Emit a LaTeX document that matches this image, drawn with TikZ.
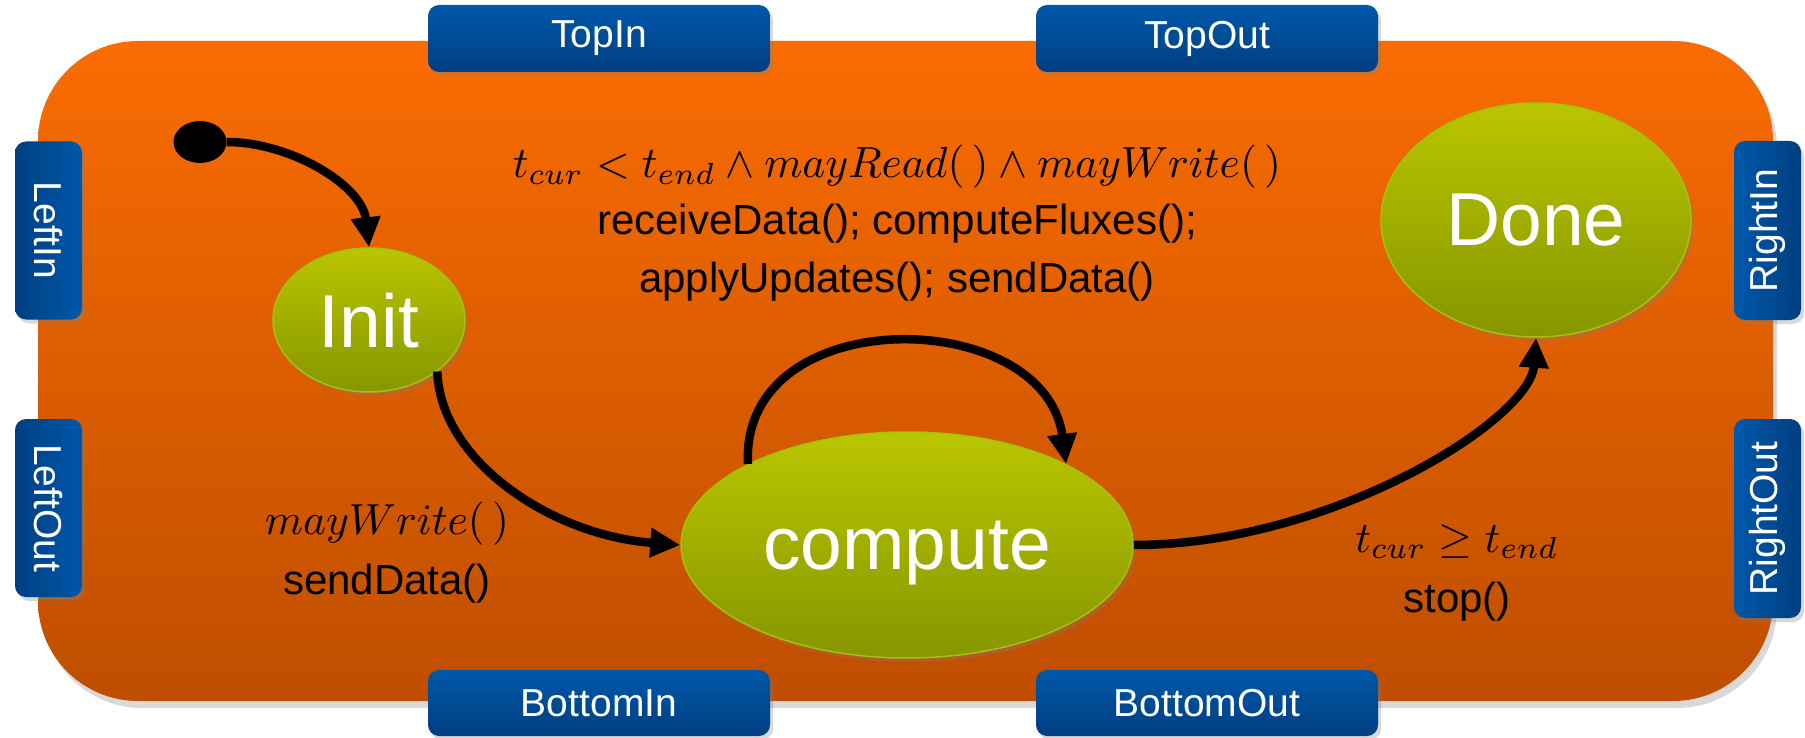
\documentclass[tikz,border=0pt]{standalone}
\usepackage[no-math]{fontspec}
\setmainfont{Liberation Sans}
\usetikzlibrary{shapes.geometric,arrows.meta,shadows}
\definecolor{orangetop}{RGB}{250,108,2}
\definecolor{orangebot}{RGB}{190,78,0}
\definecolor{greentop}{RGB}{186,198,0}
\definecolor{greenbot}{RGB}{134,150,0}
\definecolor{greenline}{RGB}{165,195,10}
\definecolor{bluelight}{RGB}{0,88,170}
\definecolor{bluedark}{RGB}{0,62,128}
\newcommand{\bigmath}[1]{\scalebox{4.35}{\fontsize{10}{12}\selectfont$#1$}}
\tikzset{
  softshadow/.style={drop shadow={shadow xshift=3pt, shadow yshift=-4pt, opacity=0.3}},
  portbox/.style={rounded corners=11pt, inner sep=0pt, softshadow},
  hport/.style={portbox, top color=bluelight, bottom color=bluedark, minimum width=342pt, minimum height=67pt, text=white, font=\fontsize{39}{44}\selectfont},
  vport/.style={portbox, minimum width=67pt},
  porttext/.style={text=white, font=\fontsize{39}{44}\selectfont, inner sep=0pt},
  state/.style={ellipse, draw=greenline, line width=1.5pt, top color=greentop, bottom color=greenbot, text=white, font=\fontsize{75}{80}\selectfont, inner sep=0pt, text depth=0pt, softshadow},
  conn/.style={line width=8.5pt, -{Triangle[length=30pt,width=28pt]}},
  lbl/.style={font=\fontsize{42}{50}\selectfont, anchor=base, inner sep=0pt},
  mlbl/.style={anchor=base, inner sep=0pt},
}
\begin{document}
\begin{tikzpicture}[x=1pt,y=-1pt]
\useasboundingbox (0,0) rectangle (1805,738);
% component block
\node[top color=orangetop, bottom color=orangebot, rounded corners=100pt, minimum width=1735pt, minimum height=660pt, inner sep=0pt,
      drop shadow={shadow xshift=4pt, shadow yshift=-7pt, opacity=0.3}] (block) at (905.5,371) {};
% ports
\node[hport] (topin) at (599,38.5) {TopIn};
\node[hport] (topout) at (1207,38.5) {TopOut};
\node[hport, minimum height=66pt] (bottomin) at (599,703) {BottomIn};
\node[hport, minimum height=66pt] (bottomout) at (1207,703) {BottomOut};
\node[vport, left color=bluedark, right color=bluelight, minimum height=178pt] (leftin) at (48.5,230.5) {};
\node[porttext, rotate=-90] (leftinlabel) at (leftin) {LeftIn};
\node[vport, left color=bluedark, right color=bluelight, minimum height=178pt] (leftout) at (48.5,508) {};
\node[porttext, rotate=-90] (leftoutlabel) at (leftout) {LeftOut};
\node[vport, left color=bluelight, right color=bluedark, minimum height=179pt] (rightin) at (1767.5,230.5) {};
\node[porttext, rotate=90] (rightinlabel) at (rightin) {RightIn};
\node[vport, left color=bluelight, right color=bluedark, minimum height=199pt] (rightout) at (1767.5,518.5) {};
\node[porttext, rotate=90] (rightoutlabel) at (rightout) {RightOut};
% states
\node[ellipse, fill=black, minimum width=53pt, minimum height=42pt, inner sep=0pt] (start) at (200,142) {};
\node[state, minimum width=192pt, minimum height=144pt] (init) at (369,320) {Init};
\node[state, minimum width=452pt, minimum height=226pt] (compute) at (907,545) {compute};
\node[state, minimum width=310pt, minimum height=234pt] (done) at (1536,220) {Done};
% transitions
\draw[conn] (start.east) .. controls (290,142) and (362,185) .. (init.north);
\draw[conn] (init.-37) .. controls (440,460) and (550,535) .. (compute.west);
\draw[conn] (compute.153) .. controls (740,300) and (1045,305) .. (compute.27);
\draw[conn] (compute.east) .. controls (1330,545) and (1530,420) .. (done.south);
% labels
\node[mlbl] (guardloop) at (897,178) {\bigmath{t_{cur} < t_{end} \wedge mayRead(\,) \wedge mayWrite(\,)}};
\node[lbl] (actloopa) at (897,235) {receiveData(); computeFluxes();};
\node[lbl] (actloopb) at (897,292) {applyUpdates(); sendData()};
\node[mlbl] (guardinit) at (387,534) {\bigmath{mayWrite(\,)}};
\node[lbl] (actinit) at (387,594) {sendData()};
\node[mlbl] (guarddone) at (1457,552) {\bigmath{t_{cur} \geq t_{end}}};
\node[lbl] (actdone) at (1457,612) {stop()};
\end{tikzpicture}
\end{document}
